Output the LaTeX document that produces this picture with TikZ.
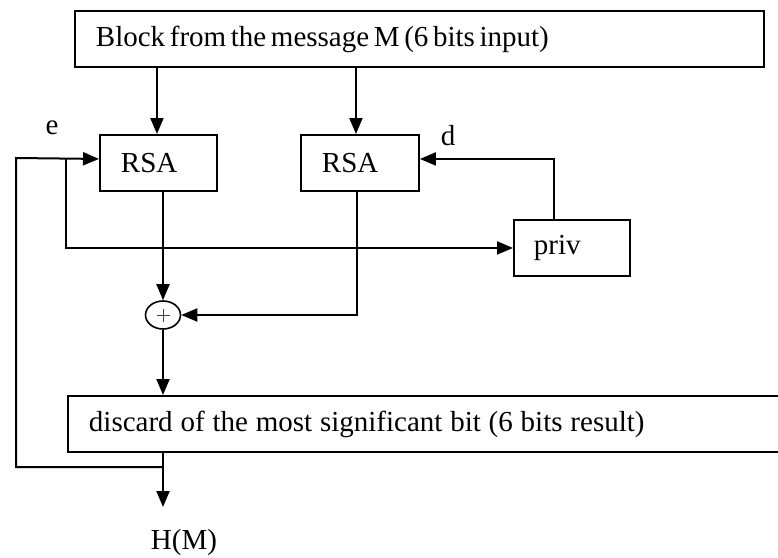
\documentclass[tikz,border=0pt]{standalone}
\usepackage{fontspec}
\setmainfont{Liberation Serif}
\usetikzlibrary{arrows.meta,shapes.geometric,calc}
\begin{document}
\begin{tikzpicture}[x=1pt,y=-1pt,
  font=\fontsize{29}{33}\selectfont,
  stage/.style={draw,line width=1.9pt,anchor=north west,align=left,
                inner xsep=21pt,inner ysep=0pt,minimum height=56pt},
  wire/.style={line width=2pt},
  arr/.style={wire,-{Triangle[length=16pt,width=13pt]}},
  lbl/.style={inner sep=0pt},
]
\useasboundingbox (0,0) rectangle (778,557);

% processing stages
\node[stage,text width=647pt] (top) at (74,10) {\spaceskip=0.16em Block from the message M (6 bits input)};
\node[stage,text width=75pt] (rsa1) at (99,134) {RSA};
\node[stage,text width=76pt] (rsa2) at (300,134) {RSA};
\node[stage,inner xsep=20pt,text width=76pt] (priv) at (513,219) {priv};
\node[stage,text width=680pt] (disc) at (67,395) {\spaceskip=0.27em discard of the most significant bit (6 bits result)};

% xor combiner
\node[draw,ellipse,line width=1.6pt,minimum width=35pt,minimum height=28pt,inner sep=0pt] (xor) at (163,315) {};
\draw[line width=0.9pt,black!75] ($(xor.center)+(-6.5,0)$) -- ($(xor.center)+(6.5,0)$)
                        ($(xor.center)+(0,-6.5)$) -- ($(xor.center)+(0,6.5)$);

% helper points for the feedback loop and the output
\coordinate (fb) at (163,467);
\coordinate (loop) at (16,158);
\coordinate (br) at (66,158);
\coordinate (out) at (163,507);

% connectors
\draw[arr] ([xshift=-1.5pt]rsa1.north |- top.south) -- ([xshift=-1.5pt]rsa1.north);
\draw[arr] ([xshift=-4pt]rsa2.north |- top.south) -- ([xshift=-4pt]rsa2.north);
\draw[arr] (xor |- rsa1.south) -- (xor.north);
\draw[arr] ([xshift=-3pt]rsa2.south) |- (xor.east);
\draw[arr] (xor.south) -- (disc.north -| xor);
\draw[arr] (disc.south -| xor) -- (out);
\draw[arr] (fb) -| (loop) -- ([yshift=4pt]rsa1.west);
\draw[arr] (br) |- (priv.west);
\draw[arr] ([xshift=-18pt]priv.north) |- ([yshift=4pt]rsa2.east);

% labels
\node[lbl] (e) at (52,128) {e};
\node[lbl] (d) at (448,136) {d};
\node[lbl] (hm) at (184,543) {H(M)};
\end{tikzpicture}
\end{document}
